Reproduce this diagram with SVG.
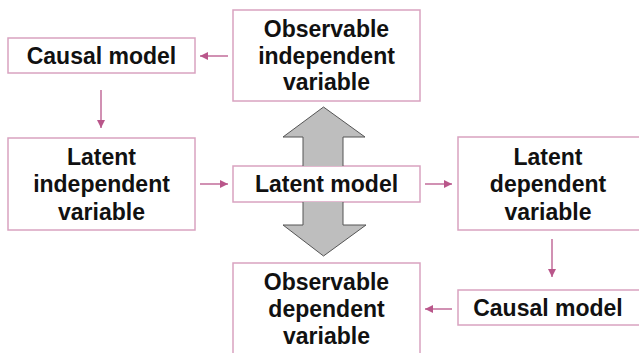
<svg xmlns="http://www.w3.org/2000/svg" width="639" height="353" viewBox="0 0 639 353">
<style>
.box{fill:#fff;stroke:#D9A3C0;stroke-width:1.5}
.t{font-family:"Liberation Sans",Arial,sans-serif;font-weight:bold;font-size:23px;fill:#111;text-anchor:middle}
.c{stroke:#B9568A;stroke-width:1.3;fill:none}
.big{fill:#BEBEBE;stroke:#555;stroke-width:1}
</style>
<defs>
<marker id="ah" viewBox="0 0 10 10" refX="10" refY="5" markerWidth="10" markerHeight="8" markerUnits="userSpaceOnUse" orient="auto">
<path d="M0,0 L10,5 L0,10 z" fill="#B9568A"/>
</marker>
</defs>
<rect width="639" height="353" fill="#fff"/>
<g id="causal-model-top"><rect class="box" x="8" y="38" width="187" height="35"/><text class="t" x="101.5" y="64">Causal model</text></g>
<g id="observable-independent"><rect class="box" x="233" y="10" width="187" height="91"/><text class="t" x="326.5" y="37">Observable</text><text class="t" x="326.5" y="63.5">independent</text><text class="t" x="326.5" y="90">variable</text></g>
<g id="latent-independent"><rect class="box" x="8" y="138" width="187" height="92"/><text class="t" x="101.5" y="165">Latent</text><text class="t" x="101.5" y="192">independent</text><text class="t" x="101.5" y="219.5">variable</text></g>
<g id="latent-model"><rect class="box" x="233" y="166" width="187" height="36"/><text class="t" x="326.5" y="192">Latent model</text></g>
<g id="latent-dependent"><rect class="box" x="458" y="137" width="182" height="93"/><text class="t" x="548" y="165">Latent</text><text class="t" x="548" y="192">dependent</text><text class="t" x="548" y="219.5">variable</text></g>
<g id="causal-model-bottom"><rect class="box" x="458" y="290" width="182" height="35"/><text class="t" x="548" y="316">Causal model</text></g>
<g id="observable-dependent"><rect class="box" x="233" y="263" width="187" height="100"/><text class="t" x="326.5" y="290">Observable</text><text class="t" x="326.5" y="317">dependent</text><text class="t" x="326.5" y="344">variable</text></g>
<g id="connectors">
<line class="c" x1="228" y1="56" x2="200" y2="56" marker-end="url(#ah)"/>
<line class="c" x1="101" y1="90" x2="101" y2="128" marker-end="url(#ah)"/>
<line class="c" x1="200" y1="184" x2="228" y2="184" marker-end="url(#ah)"/>
<line class="c" x1="425" y1="184" x2="452" y2="184" marker-end="url(#ah)"/>
<line class="c" x1="552" y1="239" x2="552" y2="277" marker-end="url(#ah)"/>
<line class="c" x1="452" y1="309" x2="425" y2="309" marker-end="url(#ah)"/>
<path class="big" d="M303,166 L303,137 L283,137 L323.5,107 L365,137 L343,137 L343,166"/>
<path class="big" d="M303,202 L303,225 L283,225 L323.5,256 L366,225 L343,225 L343,202"/>
</g>
</svg>
